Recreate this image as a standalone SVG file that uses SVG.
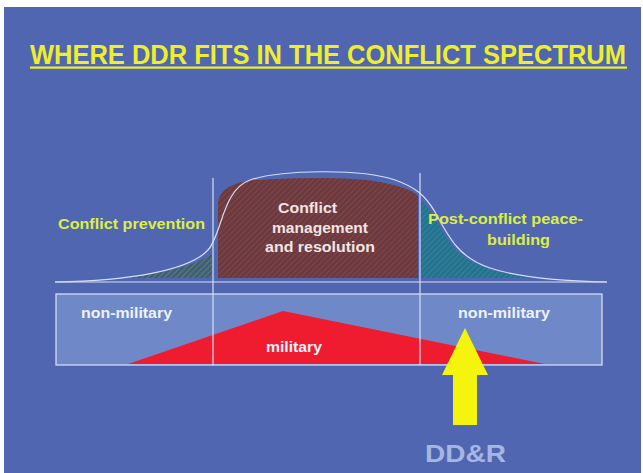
<svg xmlns="http://www.w3.org/2000/svg" width="643" height="473" viewBox="0 0 643 473">
  <defs>
    <pattern id="hatch-brown" width="4" height="4" patternUnits="userSpaceOnUse" patternTransform="rotate(45)">
      <rect width="4" height="4" fill="#6b3a3e"/>
      <line x1="0" y1="0" x2="0" y2="4" stroke="#8c4a50" stroke-width="1.4"/>
    </pattern>
    <pattern id="hatch-green" width="4" height="4" patternUnits="userSpaceOnUse" patternTransform="rotate(45)">
      <rect width="4" height="4" fill="#3f5f78"/>
      <line x1="0" y1="0" x2="0" y2="4" stroke="#6f8a70" stroke-width="1.4"/>
    </pattern>
    <pattern id="hatch-teal" width="4" height="4" patternUnits="userSpaceOnUse" patternTransform="rotate(45)">
      <rect width="4" height="4" fill="#2a6f90"/>
      <line x1="0" y1="0" x2="0" y2="4" stroke="#1f9a9a" stroke-width="1.4"/>
    </pattern>
    <style>
      .title { font-family: "Liberation Sans", Arial, sans-serif; font-weight: bold; font-size: 25px; fill: #eeee2c; }
      .lbl { font-family: "Liberation Sans", Arial, sans-serif; font-weight: bold; font-size: 15.5px; }
      .phase { fill: #dcee44; }
      .core { fill: #f2e4e4; }
      .band { fill: #eef2fa; }
      .guide { stroke: #d6def4; stroke-width: 1.2; fill: none; }
    </style>
  </defs>

  <!-- page -->
  <rect x="0" y="0" width="643" height="473" fill="#ffffff"/>
  <rect x="4" y="7" width="637" height="466" fill="#5066b0"/>

  <!-- heading: tall letters, stretched vertically -->
  <g id="title">
    <text class="title" transform="translate(30,64) scale(1,1.12)" x="0" y="0" textLength="596" lengthAdjust="spacingAndGlyphs">WHERE DDR FITS IN THE CONFLICT  SPECTRUM</text>
    <rect x="30" y="66.5" width="597" height="2.2" fill="#eeee2c"/>
  </g>

  <!-- conflict intensity curve -->
  <g id="spectrum">
    <path d="M120,278 C160,274 195,266 212,254 L212,278 Z" fill="url(#hatch-green)"/>
    <path d="M218,278 L218,202 C220,190 232,182 255,180 C290,178 350,176 380,182 C400,186 412,190 418,196 L418,278 Z" fill="url(#hatch-brown)"/>
    <path d="M421,278 L421,200 C430,208 436,220 443,232 C455,252 466,262 492,270 C510,275 528,277 545,278 Z" fill="url(#hatch-teal)"/>
    <path class="guide" stroke-width="2" d="M55,282 C130,281 190,270 208,250 C222,235 222,190 250,180 C280,170 360,168 395,180 C415,187 425,195 435,212 C450,240 460,258 490,268 C520,278 560,281 607,282"/>
    <line class="guide" x1="55" y1="282" x2="607" y2="282" stroke-width="1.6"/>
  </g>

  <!-- phase labels -->
  <g id="phase-prevention">
    <text class="lbl phase" x="58" y="229" textLength="147" lengthAdjust="spacingAndGlyphs">Conflict prevention</text>
  </g>
  <g id="phase-management">
    <text class="lbl core" x="278" y="213" textLength="59" lengthAdjust="spacingAndGlyphs">Conflict</text>
    <text class="lbl core" x="272" y="233" textLength="96" lengthAdjust="spacingAndGlyphs">management</text>
    <text class="lbl core" x="265" y="252" textLength="110" lengthAdjust="spacingAndGlyphs">and resolution</text>
  </g>
  <g id="phase-peacebuilding">
    <text class="lbl phase" x="428" y="224" textLength="155" lengthAdjust="spacingAndGlyphs">Post-conflict peace-</text>
    <text class="lbl phase" x="487" y="245" textLength="63" lengthAdjust="spacingAndGlyphs">building</text>
  </g>

  <!-- civil / military band -->
  <g id="band">
    <rect x="56" y="294" width="546" height="71" fill="#6f88c8"/>
    <polygon points="128,364 283,311 545,364" fill="#ee1c2e"/>
    <rect x="56" y="294" width="546" height="71" fill="none" stroke="#dde4f6" stroke-width="1.2"/>
    <text class="lbl band" x="81" y="318" textLength="91" lengthAdjust="spacingAndGlyphs">non-military</text>
    <text class="lbl band" x="266" y="352" textLength="56" lengthAdjust="spacingAndGlyphs">military</text>
    <text class="lbl band" x="458" y="318" textLength="92" lengthAdjust="spacingAndGlyphs">non-military</text>
  </g>

  <!-- phase dividers -->
  <g id="connectors">
    <line class="guide" x1="213" y1="178" x2="213" y2="365"/>
    <line class="guide" x1="420" y1="173" x2="420" y2="365"/>
  </g>

  <!-- DD&R entry point -->
  <g id="ddr">
    <polygon points="465,328 488,375 477,375 477,425 453,425 453,375 442,375" fill="#f4f40c"/>
    <text x="425" y="462" textLength="81" lengthAdjust="spacingAndGlyphs" font-family="Liberation Sans, Arial, sans-serif" font-weight="bold" font-size="24" fill="#a6b6e2">DD&amp;R</text>
  </g>
</svg>
